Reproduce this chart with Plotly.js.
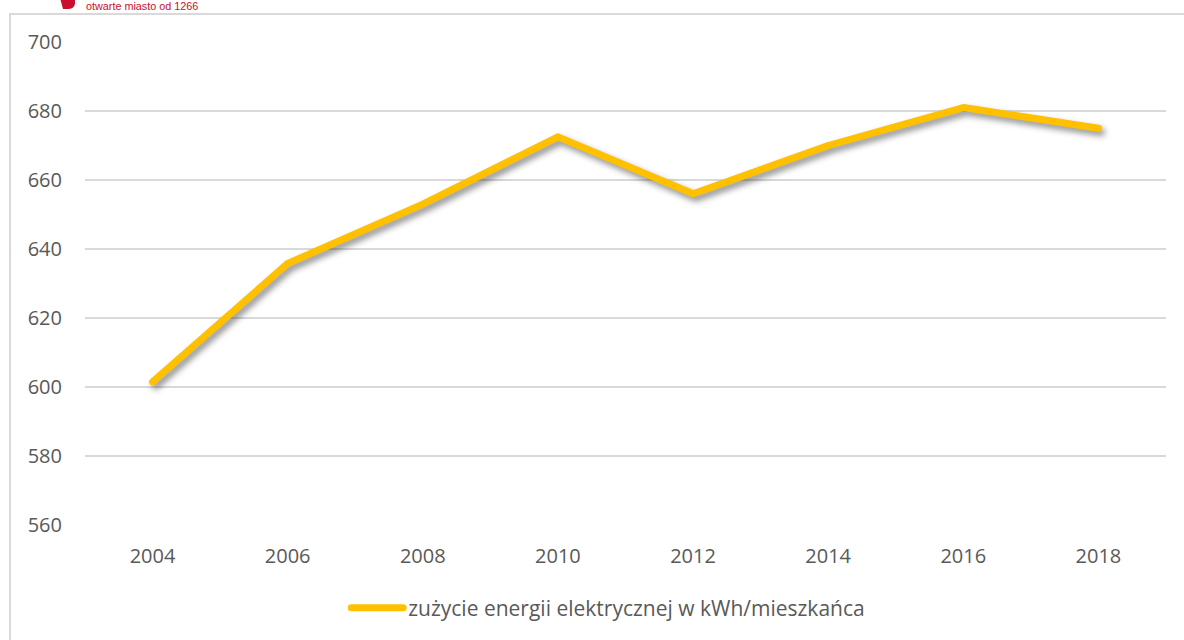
<!DOCTYPE html>
<html>
<head>
<meta charset="utf-8">
<script src="https://cdn.plot.ly/plotly-3.0.1.min.js"></script>
<style>
  html, body { margin: 0; padding: 0; background: #fff; }
  #wrap { position: relative; width: 1184px; height: 640px; overflow: hidden; }
  #frame { position: absolute; left: 9px; top: 13px; width: 1200px; height: 700px; border: 2px solid #d9d9d9; box-sizing: border-box; pointer-events: none; }
  #chart { position: absolute; left: 0; top: 0; width: 1184px; height: 640px; }
  #chart .scatterlayer .js-line { filter: drop-shadow(3px 4px 3px rgba(0,0,0,0.45)); stroke-linecap: round; stroke-linejoin: round; }
  #chart .legend .js-line { stroke-linecap: round; }
</style>
</head>
<body>
<div id="wrap">
  <div id="chart"></div>
  <div id="frame"></div>
</div>
<script>
const years = ['2004', '2006', '2008', '2010', '2012', '2014', '2016', '2018'];
const consumption = [601.5, 635.8, 653, 672.5, 656, 670, 681, 675];
const seriesName = 'zużycie energii elektrycznej w kWh/mieszkańca';
const yTicks = [560, 580, 600, 620, 640, 660, 680, 700];
const logoText = 'otwarte miasto od 1266';

const trace = {
  type: 'scatter',
  mode: 'lines',
  x: years,
  y: consumption,
  name: seriesName,
  line: { color: '#FFC000', width: 7, shape: 'linear' },
  hoverinfo: 'x+y'
};

const layout = {
  width: 1184,
  height: 640,
  margin: { l: 85, r: 18, t: 42, b: 115 },
  paper_bgcolor: 'rgba(0,0,0,0)',
  plot_bgcolor: 'rgba(0,0,0,0)',
  font: { family: 'Open Sans, Liberation Sans, sans-serif', color: '#595959', size: 20 },
  xaxis: {
    type: 'category',
    range: [-0.5, years.length - 0.5],
    showgrid: false,
    showline: false,
    zeroline: false,
    ticks: '',
    tickfont: { size: 20, color: '#595959' },
    ticklabelstandoff: 17
  },
  yaxis: {
    range: [560, 700],
    tickvals: yTicks,
    showgrid: true,
    gridcolor: '#d9d9d9',
    gridwidth: 1.5,
    zeroline: false,
    showline: false,
    ticks: '',
    tickfont: { size: 20, color: '#595959' },
    ticklabelstandoff: 22
  },
  showlegend: true,
  legend: {
    orientation: 'h',
    x: 0.484, xanchor: 'center',
    y: -0.172, yanchor: 'middle',
    font: { size: 21, color: '#595959' },
    itemwidth: 52,
    bgcolor: 'rgba(0,0,0,0)'
  },
  annotations: [{
    text: logoText,
    xref: 'paper', yref: 'paper',
    x: 0.0, xanchor: 'left',
    y: 1, yanchor: 'bottom',
    xshift: -1,
    yshift: 28,
    showarrow: false,
    font: { size: 10.8, color: '#C8102E', family: 'Liberation Sans, sans-serif' }
  }],
  shapes: [{
    type: 'path',
    xref: 'paper', yref: 'paper',
    xsizemode: 'pixel', ysizemode: 'pixel',
    xanchor: 0, yanchor: 1,
    path: 'M -25 44 L -10 44 L -10 38 Q -11 33 -17 33 L -22 33 Z',
    fillcolor: '#C8102E',
    line: { width: 0 }
  }]
};

Plotly.newPlot('chart', [trace], layout, { displayModeBar: false, staticPlot: true });
</script>
</body>
</html>
